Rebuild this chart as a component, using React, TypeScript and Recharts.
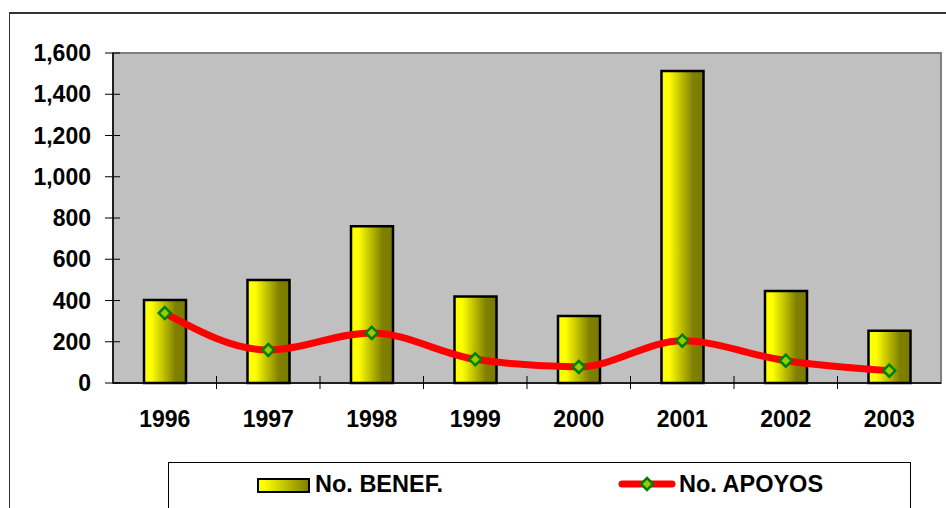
import React from 'react';
import { ComposedChart, Bar, Line, XAxis, YAxis, CartesianGrid, ReferenceArea } from 'recharts';

const years = ['1996', '1997', '1998', '1999', '2000', '2001', '2002', '2003'];
const benef = [403, 500, 760, 420, 325, 1513, 446, 253];
const apoyos = [339, 160, 243, 115, 78, 205, 108, 60];
const yTicks = [0, 200, 400, 600, 800, 1000, 1200, 1400, 1600];

const data = years.map((year, i) => ({ year, benef: benef[i], apoyos: apoyos[i] }));

const FONT = '"Liberation Sans", Arial, sans-serif';
const LABEL_GAP = 28;
const Y_GAP = 22;

const Diamond = (props: any) => {
    const { cx, cy } = props;
    if (cx == null || cy == null) return null;
    const r = 6;
    return (
        <path
            d={`M${cx},${cy - r} L${cx + r},${cy} L${cx},${cy + r} L${cx - r},${cy} Z`}
            fill="#99cc00"
            stroke="#008000"
            strokeWidth={2.5}
        />
    );
};

// category label plus the small tick mark on the boundary between categories
const YearTick = (props: any) => {
    const { x, y, payload, index, visibleTicksCount } = props;
    const half = payload && payload.offset ? payload.offset : 51.9;
    const axisY = y - LABEL_GAP;
    const last = index === (visibleTicksCount ?? years.length) - 1;
    return (
        <g>
            {!last && <line x1={x + half} x2={x + half} y1={axisY - 7} y2={axisY + 6} stroke="#000" strokeWidth={1} />}
            <text x={x} y={y} dy="0.71em" textAnchor="middle" fill="#000" fontSize={23} fontWeight="bold" fontFamily={FONT}>
                {payload.value}
            </text>
        </g>
    );
};

// value label with a tick that crosses the axis line
const ValueTick = (props: any) => {
    const { x, y, payload } = props;
    const axisX = x + Y_GAP;
    return (
        <g>
            <line x1={axisX - 8} x2={axisX + 7} y1={y} y2={y} stroke="#000" strokeWidth={1} />
            <text x={x} y={y} dy="0.355em" textAnchor="end" fill="#000" fontSize={23} fontWeight="bold" fontFamily={FONT}>
                {Number(payload.value).toLocaleString('en-US')}
            </text>
        </g>
    );
};

const LegendBox = () => (
    <div
        style={{
            position: 'absolute',
            left: 168,
            top: 462,
            width: 741,
            height: 80,
            border: '1px solid #000',
            background: '#fff',
            fontFamily: FONT,
            fontWeight: 'bold',
            fontSize: 23.5,
        }}
    >
        <div style={{ position: 'absolute', left: 88, top: 15, width: 49, height: 11, border: '2px solid #000', background: 'linear-gradient(to right, #ffff00 0%, #ffff00 10%, #808000 100%)' }} />
        <div style={{ position: 'absolute', left: 146, top: 7, lineHeight: '28px' }}>No. BENEF.</div>
        <svg style={{ position: 'absolute', left: 446, top: 10 }} width={64} height={22}>
            <line x1={7} y1={11} x2={57} y2={11} stroke="#ff0000" strokeWidth={7} strokeLinecap="round" />
            <Diamond cx={32} cy={11} />
        </svg>
        <div style={{ position: 'absolute', left: 510, top: 7, lineHeight: '28px' }}>No. APOYOS</div>
    </div>
);

export default function App() {
    return (
        <div style={{ position: 'absolute', left: 0, top: 0, width: 946, height: 508, overflow: 'hidden', background: '#fff' }}>
            <div style={{ position: 'absolute', left: 9, top: 12, width: 980, height: 540, borderTop: '2px solid #333', borderLeft: '1.5px solid #333' }} />
            <div style={{ position: 'absolute', left: 0, top: 0 }}>
                <ComposedChart
                    width={946}
                    height={508}
                    data={data}
                    margin={{ top: 53, right: 5, bottom: 85, left: 0 }}
                    barCategoryGap="29%"
                >
                    <defs>
                        <linearGradient id="barGrad" x1="0" y1="0" x2="1" y2="0">
                            <stop offset="0%" stopColor="#ffff00" />
                            <stop offset="18%" stopColor="#ffff00" />
                            <stop offset="75%" stopColor="#808000" />
                            <stop offset="100%" stopColor="#7a7a00" />
                        </linearGradient>
                    </defs>
                    <CartesianGrid fill="#c0c0c0" horizontal={false} vertical={false} />
                    <ReferenceArea y1={0} y2={1600} fill="none" stroke="#808080" strokeWidth={2} ifOverflow="visible" />
                    <XAxis
                        dataKey="year"
                        height={40}
                        axisLine={{ stroke: '#000', strokeWidth: 1.5 }}
                        tickLine={false}
                        tickSize={0}
                        tickMargin={LABEL_GAP}
                        tick={<YearTick />}
                        interval={0}
                    />
                    <YAxis
                        width={113}
                        domain={[0, 1600]}
                        ticks={yTicks}
                        interval={0}
                        axisLine={{ stroke: '#000', strokeWidth: 1.5 }}
                        tickLine={false}
                        tickSize={0}
                        tickMargin={Y_GAP}
                        tick={<ValueTick />}
                    />
                    <Bar dataKey="benef" fill="url(#barGrad)" stroke="#000" strokeWidth={2.5} barSize={42} isAnimationActive={false} />
                    <Line
                        dataKey="apoyos"
                        type="monotone"
                        stroke="#ff0000"
                        strokeWidth={7}
                        strokeLinecap="round"
                        dot={<Diamond />}
                        activeDot={false}
                        isAnimationActive={false}
                    />
                </ComposedChart>
            </div>
            <LegendBox />
        </div>
    );
}
